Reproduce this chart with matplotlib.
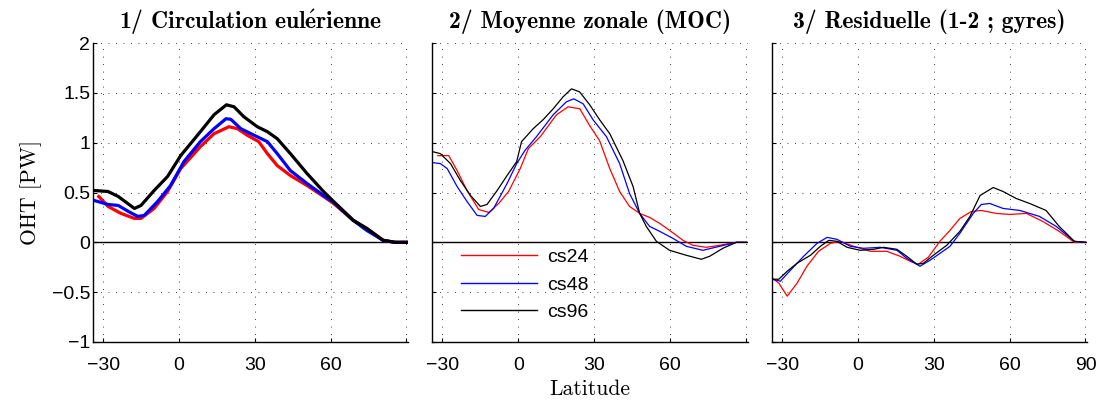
import matplotlib
matplotlib.use("Agg")
import matplotlib.pyplot as plt

plt.rcParams["mathtext.fontset"] = "cm"

# OHT [PW] against latitude, three resolutions (cs24, cs48, cs96)
RUNS = ["cs24", "cs48", "cs96"]
COLORS = ["#ff0000", "#0000ff", "#000000"]
TITLES = [r"1/ Circulation $\mathbf{eul\acute{e}rienne}$",
          "2/ Moyenne zonale (MOC)",
          "3/ Residuelle (1-2 ; gyres)"]
Y_TICKS = [-1, -0.5, 0, 0.5, 1, 1.5, 2]
Y_TICKLABELS = ["\u22121", "\u22120.5", "0", "0.5", "1", "1.5", "2"]
X_TICKS = [-30, 0, 30, 60, 90]

# panel 1: eulerian circulation
lat_eul_cs24 = [-31.7, -28, -22.9, -17.6, -15, -9.8, -4.5, 0.7, 8.5, 13.9, 19.8, 23.2,
                27, 31.6, 35, 38.9, 44.1, 50.7, 57.2, 61.2, 69, 74.3, 80.8, 85.5, 90]
oht_eul_cs24 = [0.46, 0.36, 0.29, 0.24, 0.24, 0.34, 0.51, 0.74, 0.96, 1.09, 1.16, 1.14,
                1.075, 1.01, 0.89, 0.77, 0.67, 0.57, 0.46, 0.39, 0.22, 0.14, 0.02, 0, 0]
lat_eul_cs48 = [-33.5, -28, -24, -20, -16.3, -13.7, -8.4, -3.3, 2, 8.5, 13.9, 18.6, 20.5,
                24.5, 29.7, 35, 38.9, 44.1, 50.7, 57.2, 61.2, 69, 74.3, 80.8, 85.5, 90]
oht_eul_cs48 = [0.42, 0.38, 0.37, 0.31, 0.26, 0.27, 0.41, 0.57, 0.81, 1.01, 1.14, 1.24, 1.235,
                1.14, 1.075, 1.01, 0.89, 0.72, 0.59, 0.47, 0.40, 0.22, 0.12, 0.02, 0, 0]
lat_eul_cs96 = [-33.5, -28, -24, -17.6, -15, -9.8, -4.5, 0.7, 8.5, 13.9, 18.8, 21.8, 25.7,
                31, 35, 38.9, 44.1, 50.7, 57.2, 61.2, 69, 74.3, 80.8, 85.5, 90]
oht_eul_cs96 = [0.52, 0.51, 0.46, 0.34, 0.37, 0.52, 0.66, 0.87, 1.11, 1.28, 1.38, 1.36, 1.26,
                1.16, 1.11, 1.04, 0.89, 0.69, 0.51, 0.41, 0.22, 0.14, 0.02, 0, 0]

# panel 2: zonal mean (MOC)
lat_moc_cs24 = [-31.7, -27.4, -24.1, -20.2, -15.6, -11.6, -7.7, -3.8, 0.8, 4, 8.7, 15.1,
                19.7, 24.3, 28.2, 32.1, 36.1, 40, 43.9, 47.9, 51.8, 55.8, 59.7, 65, 68.9,
                74.1, 79.4, 86, 90]
oht_moc_cs24 = [0.87, 0.87, 0.72, 0.52, 0.33, 0.30, 0.39, 0.51, 0.74, 0.94, 1.06, 1.28,
                1.36, 1.34, 1.17, 1.02, 0.74, 0.51, 0.36, 0.29, 0.25, 0.19, 0.12, 0.02, -0.03,
                -0.05, -0.03, 0, 0]
lat_moc_cs48 = [-33.8, -30.7, -28, -24.1, -20.2, -16.2, -13, -9.7, -4.4, -0.6, 2.6, 7.2,
                13.8, 19, 21.9, 25.6, 29.5, 34.8, 40, 43.9, 47.9, 51.8, 55.8, 61, 66.3, 72.8,
                79.4, 86, 90]
oht_moc_cs48 = [0.80, 0.79, 0.74, 0.56, 0.41, 0.27, 0.26, 0.34, 0.59, 0.79, 0.92, 1.06,
                1.28, 1.41, 1.44, 1.39, 1.23, 1.06, 0.79, 0.49, 0.29, 0.16, 0.11, 0.04, -0.04,
                -0.08, -0.04, 0, 0]
lat_moc_cs96 = [-33.8, -30.7, -26.7, -22.8, -18.8, -14.9, -12.3, -8.3, -4.4, -0.6, 1.3, 5.9,
                9.8, 13.8, 17.7, 21, 24.2, 28.2, 32.1, 36.1, 41.3, 45.3, 47.9, 50.5, 54.5,
                59.7, 66.3, 72.2, 75.5, 80.7, 86, 90]
oht_moc_cs96 = [0.91, 0.89, 0.79, 0.62, 0.47, 0.36, 0.38, 0.52, 0.67, 0.81, 1.01, 1.14,
                1.23, 1.34, 1.46, 1.54, 1.51, 1.38, 1.23, 1.09, 0.82, 0.56, 0.29, 0.16, 0.01,
                -0.08, -0.13, -0.17, -0.14, -0.06, 0, 0]

# panel 3: residual (gyres)
lat_res_cs24 = [-33.9, -31.3, -28, -24.1, -20.2, -15.6, -10.9, -7, -1.7, 4.9, 11.4, 16.7,
                20.6, 23.8, 27.8, 32.4, 36.4, 40.3, 44.9, 48.8, 54.8, 60, 66.6, 73.1, 79.6,
                85.6, 90]
oht_res_cs24 = [-0.36, -0.41, -0.54, -0.41, -0.24, -0.09, -0.01, 0.01, -0.04, -0.09, -0.09,
                -0.14, -0.19, -0.22, -0.15, 0.01, 0.12, 0.24, 0.31, 0.32, 0.29, 0.28, 0.29,
                0.21, 0.11, 0, 0]
lat_res_cs48 = [-33.9, -30.7, -26.7, -21.5, -16.2, -12.2, -8.3, -3, 2.2, 8.8, 15.4, 19.3,
                24.5, 28.5, 36.4, 40.3, 45.6, 48.8, 52.1, 57.4, 64, 71.8, 78.4, 85.6, 90]
oht_res_cs48 = [-0.37, -0.39, -0.28, -0.14, -0.01, 0.05, 0.03, -0.04, -0.06, -0.05, -0.08,
                -0.16, -0.24, -0.18, -0.04, 0.09, 0.29, 0.38, 0.39, 0.34, 0.32, 0.26, 0.16,
                0.01, 0]
lat_res_cs96 = [-33.9, -31.3, -28, -24.1, -18.8, -14.9, -11.5, -8.3, -4.3, 0.9, 6.2, 10.1,
                15.4, 19.3, 23.3, 25.9, 29.8, 35.1, 40.3, 44.3, 48.3, 53.5, 57.4, 62.6, 67.9,
                74.4, 79.6, 85.6, 90]
oht_res_cs96 = [-0.37, -0.37, -0.29, -0.21, -0.13, -0.04, 0.02, 0.01, -0.05, -0.08, -0.07,
                -0.05, -0.07, -0.14, -0.22, -0.21, -0.13, -0.03, 0.11, 0.26, 0.47, 0.55, 0.51,
                0.44, 0.39, 0.32, 0.16, 0.01, 0]

PANELS = [
    [(lat_eul_cs24, oht_eul_cs24), (lat_eul_cs48, oht_eul_cs48), (lat_eul_cs96, oht_eul_cs96)],
    [(lat_moc_cs24, oht_moc_cs24), (lat_moc_cs48, oht_moc_cs48), (lat_moc_cs96, oht_moc_cs96)],
    [(lat_res_cs24, oht_res_cs24), (lat_res_cs48, oht_res_cs48), (lat_res_cs96, oht_res_cs96)],
]

SANS = ["Liberation Sans", "Arial", "DejaVu Sans"]
SERIF_B = ["cmb10", "DejaVu Serif"]
SERIF = ["cmr10", "DejaVu Serif"]

fig = plt.figure(figsize=(11.04, 4.0), dpi=100)
lefts = [0.0842, 0.3913, 0.6993]
widths = [0.2853, 0.2862, 0.2853]

for i, series in enumerate(PANELS):
    ax = fig.add_axes([lefts[i], 0.145, widths[i], 0.7475])
    lw = 2.3 if i == 0 else 0.9
    for (lat, oht), color, name in zip(series, COLORS, RUNS):
        ax.plot(lat, oht, color=color, lw=lw, label=name)
    ax.axhline(0, color="black", lw=1.0, zorder=1)

    ax.set_xlim(-34, 90.6)
    ax.set_ylim(-1, 2)
    ax.set_xticks(X_TICKS)
    if i == 2:
        ax.set_xticklabels(["\u221230", "0", "30", "60", "90"])
    else:
        ax.set_xticklabels(["\u221230", "0", "30", "60", ""])
    ax.set_yticks(Y_TICKS)
    if i == 0:
        ax.set_yticklabels(Y_TICKLABELS)
        ax.set_ylabel("OHT [PW]", family=SERIF, fontsize=15.6, labelpad=7)
    else:
        ax.set_yticklabels([])
    for lbl in ax.get_xticklabels() + ax.get_yticklabels():
        lbl.set_family(SANS)
        lbl.set_fontsize(14)

    ax.tick_params(direction="in", length=3, width=0.8)
    ax.tick_params(axis="x", pad=11)
    ax.tick_params(axis="y", pad=2)
    for side in ["top", "right"]:
        ax.spines[side].set_visible(False)
    for side in ["left", "bottom"]:
        ax.spines[side].set_linewidth(1.0)
    ax.grid(True, color="black", lw=0.6, linestyle=(0, (1, 8)))
    ax.set_axisbelow(True)
    ax.set_title(TITLES[i], family=SERIF_B, fontsize=17, pad=11)

    if i == 1:
        leg = ax.legend(loc="lower left", bbox_to_anchor=(0.035, 0.012),
                        frameon=False, handlelength=3.95, handletextpad=0.5,
                        labelspacing=0.5, prop={"family": SANS, "size": 14})
        for line in leg.get_lines():
            line.set_linewidth(1.0)
        ax.set_xlabel("Latitude", family=SERIF, fontsize=15.5, labelpad=4)

fig.savefig("out.png", dpi=100, facecolor="white")
